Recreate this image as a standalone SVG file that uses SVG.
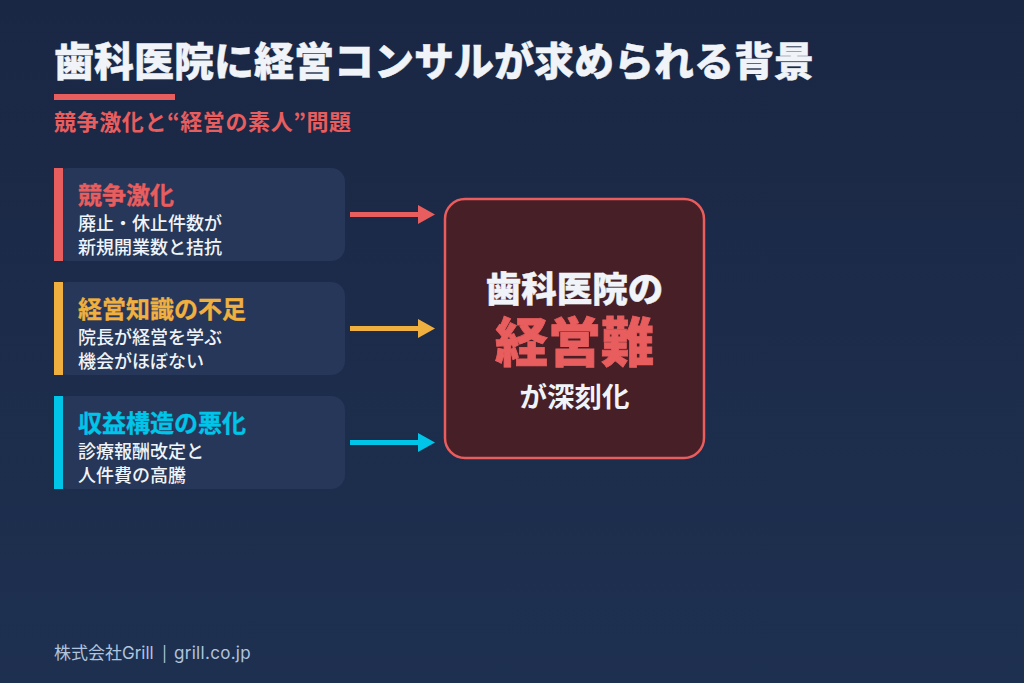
<svg xmlns="http://www.w3.org/2000/svg" width="1024" height="683" viewBox="0 0 1024 683">
<style>
text{font-family:"Noto Sans CJK JP",sans-serif}
.ct{font-size:24px;font-weight:700;paint-order:stroke;stroke-width:.3px}
.cs{font-size:18px;font-weight:500;fill:#f0f4f8}
.card{fill:#263759}
</style>
<defs>
<linearGradient id="bg" x1="0" y1="0" x2="0" y2="1"><stop offset="0" stop-color="#1a2744"/><stop offset="1" stop-color="#1e3050"/></linearGradient>
<marker id="ar" markerUnits="userSpaceOnUse" markerWidth="18" markerHeight="20" refX="0" refY="9.500" orient="auto"><path d="M0 0L17 9.500L0 19Z" fill="context-stroke"/></marker>
</defs>
<rect width="1024" height="683" fill="url(#bg)"/>
<g id="header">
<text x="54" y="76" font-size="40" font-weight="900" fill="#f0f4f8" stroke="#f0f4f8" stroke-width=".4">歯科医院に経営コンサルが求められる背景</text>
<rect x="54" y="94" width="121" height="6" fill="#e85d5d"/>
<text x="54" y="130" font-size="22" font-weight="700" fill="#e85d5d" letter-spacing=".6">競争激化と“経営の素人”問題</text>
</g>
<g id="card1">
<rect class="card" x="54" y="168" width="291" height="93" rx="14"/><rect x="54" y="168" width="9" height="93" fill="#e85d5d"/>
<text class="ct" x="78" y="204" fill="#e85d5d" stroke="#e85d5d">競争激化</text>
<text class="cs" x="78" y="230">廃止・休止件数が</text>
<text class="cs" x="78" y="254">新規開業数と拮抗</text>
</g>
<g id="card2">
<rect class="card" x="54" y="282" width="291" height="93" rx="14"/><rect x="54" y="282" width="9" height="93" fill="#f0b040"/>
<text class="ct" x="78" y="318" fill="#f0b040" stroke="#f0b040">経営知識の不足</text>
<text class="cs" x="78" y="344">院長が経営を学ぶ</text>
<text class="cs" x="78" y="368">機会がほぼない</text>
</g>
<g id="card3">
<rect class="card" x="54" y="396" width="291" height="93" rx="14"/><rect x="54" y="396" width="9" height="93" fill="#00c4e8"/>
<text class="ct" x="78" y="432" fill="#00c4e8" stroke="#00c4e8">収益構造の悪化</text>
<text class="cs" x="78" y="458">診療報酬改定と</text>
<text class="cs" x="78" y="482">人件費の高騰</text>
</g>
<g id="connectors" fill="none" stroke-width="5">
<line x1="350" y1="214.500" x2="418" y2="214.500" stroke="#e85d5d" marker-end="url(#ar)"/>
<line x1="350" y1="328.500" x2="418" y2="328.500" stroke="#f0b040" marker-end="url(#ar)"/>
<line x1="350" y1="442.500" x2="418" y2="442.500" stroke="#00c4e8" marker-end="url(#ar)"/>
</g>
<g id="center">
<rect x="445" y="199" width="259" height="259" rx="20" fill="#461f27" stroke="#e85d5d" stroke-width="2.500"/>
<text x="574.500" y="302" font-size="35.500" font-weight="900" fill="#f0f4f8" stroke="#f0f4f8" stroke-width=".4" text-anchor="middle">歯科医院の</text>
<text x="574.500" y="362" font-size="53" font-weight="900" fill="#e85d5d" stroke="#e85d5d" stroke-width=".8" text-anchor="middle">経営難</text>
<text x="574.500" y="407" font-size="27.500" font-weight="700" fill="#f0f4f8" text-anchor="middle">が深刻化</text>
</g>
<g id="footer">
<text y="659" font-size="17" fill="#b0c4de" style="font-family:Inter,'Noto Sans CJK JP',sans-serif"><tspan x="54">株式会社</tspan><tspan x="122">Grill </tspan><tspan x="162" font-size="15">| </tspan><tspan x="174" letter-spacing=".3">grill.co.jp</tspan></text>
</g>
</svg>
